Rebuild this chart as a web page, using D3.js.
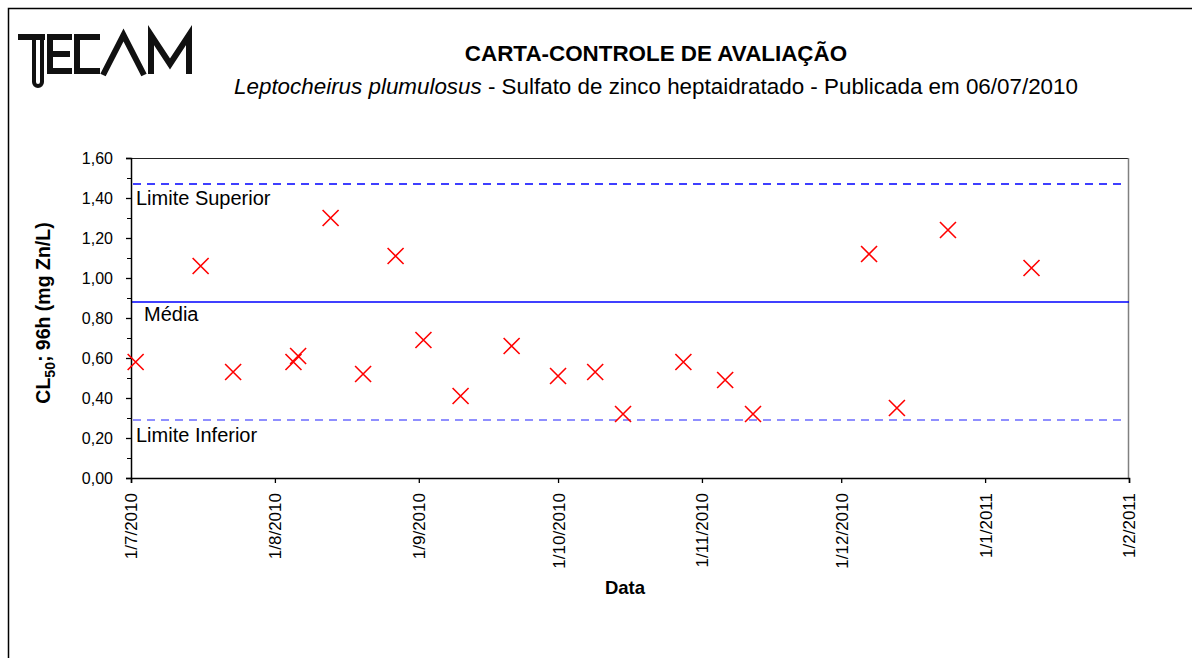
<!DOCTYPE html>
<html>
<head>
<meta charset="utf-8">
<script src="https://cdn.jsdelivr.net/npm/d3@7"></script>
<style>
  body { margin: 0; background: #fff; }
  text { font-family: "Liberation Sans", Arial, sans-serif; }
</style>
</head>
<body>
<div id="chart"></div>
<script>
// sample dates and CL50 values (mg Zn/L)
var dates = ["2010-07-02", "2010-07-16", "2010-07-23", "2010-08-05", "2010-08-06",
             "2010-08-13", "2010-08-20", "2010-08-27", "2010-09-02", "2010-09-10",
             "2010-09-21", "2010-10-01", "2010-10-09", "2010-10-15", "2010-10-28",
             "2010-11-06", "2010-11-12", "2010-12-07", "2010-12-13", "2010-12-24",
             "2011-01-11"];
var values = [0.58, 1.06, 0.53, 0.58, 0.61, 1.30, 0.52, 1.11, 0.69, 0.41,
              0.66, 0.51, 0.53, 0.32, 0.58, 0.49, 0.32, 1.12, 0.35, 1.24, 1.05];

// control limits
var limitSuperior = 1.47;
var media = 0.88;
var limitInferior = 0.29;

var xTicks = ["2010-07-01", "2010-08-01", "2010-09-01", "2010-10-01",
              "2010-11-01", "2010-12-01", "2011-01-01", "2011-02-01"];
var yTicks = [0, 0.2, 0.4, 0.6, 0.8, 1.0, 1.2, 1.4, 1.6];
var yMinorTicks = [0.1, 0.3, 0.5, 0.7, 0.9, 1.1, 1.3, 1.5];

var parse = d3.timeParse("%Y-%m-%d");
var fmtDate = d3.timeFormat("%-d/%-m/%Y");
var fmtY = function(v) { return d3.format(".2f")(v).replace(".", ","); };

var W = 1192, H = 658;
var margin = {top: 158, right: 63, bottom: 180, left: 131},
    width = W - margin.left - margin.right,
    height = H - margin.top - margin.bottom;

var svg = d3.select("#chart").append("svg")
    .attr("width", W)
    .attr("height", H);

// outer frame (top and left edges visible)
svg.append("path")
    .attr("d", "M8.5," + H + "V8.5H" + W)
    .attr("fill", "none")
    .attr("stroke", "#000")
    .attr("stroke-width", 1.5);

// logo, drawn as strokes
var logo = svg.append("g")
    .attr("fill", "none")
    .attr("stroke", "#111");
logo.append("path")   // T bar, E, C, A, M
    .attr("stroke-width", 6)
    .attr("d", "M18,37H45" +
               "M50,34V74M47,37H72M47,54H70M47,71H72" +
               "M77,34V74M74,37H100M74,71H100" +
               "M103,75L123.5,35L144,75" +
               "M151,74V35L170,64L189,35V74");
logo.append("path")   // T stem, hollow with rounded end
    .attr("stroke-width", 4)
    .attr("d", "M34,38V82A4,4 0 0 0 42,82V38");

// titles
svg.append("text")
    .attr("x", 656).attr("y", 61)
    .attr("text-anchor", "middle")
    .style("font-size", "22.4px")
    .style("font-weight", "bold")
    .text("CARTA-CONTROLE DE AVALIAÇÃO");

var sub = svg.append("text")
    .attr("x", 656).attr("y", 94)
    .attr("text-anchor", "middle")
    .style("font-size", "22.4px");
sub.append("tspan").style("font-style", "italic").text("Leptocheirus plumulosus");
sub.append("tspan").text(" - Sulfato de zinco heptaidratado - Publicada em 06/07/2010");

var g = svg.append("g")
    .attr("transform", "translate(" + margin.left + "," + margin.top + ")");

var x = d3.scaleTime()
    .domain([parse(xTicks[0]), parse(xTicks[xTicks.length - 1])])
    .range([0, width]);

var y = d3.scaleLinear()
    .domain([0, 1.6])
    .range([height, 0]);

// plot area border (top/right)
g.append("path")
    .attr("d", "M0,0.5H" + (width - 0.5))
    .attr("stroke", "#222").attr("stroke-width", 1.2);
g.append("path")
    .attr("d", "M" + (width - 0.5) + ",0V" + height)
    .attr("stroke", "#808080").attr("stroke-width", 1.5);

// control lines
g.append("line")
    .attr("x1", 2).attr("x2", width - 4)
    .attr("y1", y(limitSuperior)).attr("y2", y(limitSuperior))
    .attr("stroke", "#0000ff").attr("stroke-width", 1.3)
    .attr("stroke-dasharray", "8,6");
g.append("line")
    .attr("x1", 0).attr("x2", width)
    .attr("y1", y(media)).attr("y2", y(media))
    .attr("stroke", "#0000ff").attr("stroke-width", 1.3);
g.append("line")
    .attr("x1", 2).attr("x2", width - 4)
    .attr("y1", y(limitInferior)).attr("y2", y(limitInferior))
    .attr("stroke", "#6b6bff").attr("stroke-width", 1.5)
    .attr("stroke-dasharray", "8,6");

// line labels
g.append("text").attr("x", 5).attr("y", y(limitSuperior) + 21)
    .style("font-size", "20px").text("Limite Superior");
g.append("text").attr("x", 13).attr("y", y(media) + 19)
    .style("font-size", "20px").text("Média");
g.append("text").attr("x", 5).attr("y", y(limitInferior) + 22)
    .style("font-size", "20px").text("Limite Inferior");

// Y axis
var yAxis = g.append("g")
    .call(d3.axisLeft(y).tickValues(yTicks).tickFormat(fmtY).tickSize(5).tickPadding(13));
g.append("g")
    .call(d3.axisLeft(y).tickValues(yMinorTicks).tickFormat("").tickSize(4))
    .select(".domain").remove();

// X axis
var xAxis = g.append("g")
    .attr("transform", "translate(0," + height + ")")
    .call(d3.axisBottom(x).tickValues(xTicks.map(parse)).tickFormat(fmtDate).tickSize(5));

[yAxis, xAxis].forEach(function(a) {
  a.selectAll(".domain").attr("stroke", "#000").attr("stroke-width", 1.5);
  a.selectAll(".tick line").attr("stroke", "#000").attr("stroke-width", 1.3);
  a.selectAll("text")
    .style("font-family", "'Liberation Sans', Arial, sans-serif")
    .style("font-size", "16px")
    .style("fill", "#000");
});

xAxis.selectAll("text")
    .attr("transform", "rotate(-90)")
    .attr("x", -15).attr("y", 0)
    .attr("dy", "0.35em")
    .style("text-anchor", "end")
    .style("font-size", "17px");

// points (x markers)
var s = 8;
g.selectAll(".pt")
    .data(dates.map(function(d, i) { return {date: parse(d), value: values[i]}; }))
    .enter()
    .append("path")
      .attr("class", "pt")
      .attr("transform", function(d) { return "translate(" + x(d.date) + "," + y(d.value) + ")"; })
      .attr("d", "M" + (-s) + "," + (-s) + "L" + s + "," + s + "M" + (-s) + "," + s + "L" + s + "," + (-s))
      .attr("stroke", "#ff0000")
      .attr("stroke-width", 1.6)
      .attr("fill", "none");

// axis titles
svg.append("text")
    .attr("x", 625).attr("y", 594)
    .attr("text-anchor", "middle")
    .style("font-size", "18.5px")
    .style("font-weight", "bold")
    .text("Data");

var yt = svg.append("text")
    .attr("transform", "translate(50,313) rotate(-90)")
    .attr("text-anchor", "middle")
    .style("font-size", "19.5px")
    .style("font-weight", "bold");
yt.append("tspan").text("CL");
yt.append("tspan").attr("dy", 5).style("font-size", "14px").text("50");
yt.append("tspan").attr("dy", -5).text("; 96h (mg Zn/L)");
</script>
</body>
</html>
